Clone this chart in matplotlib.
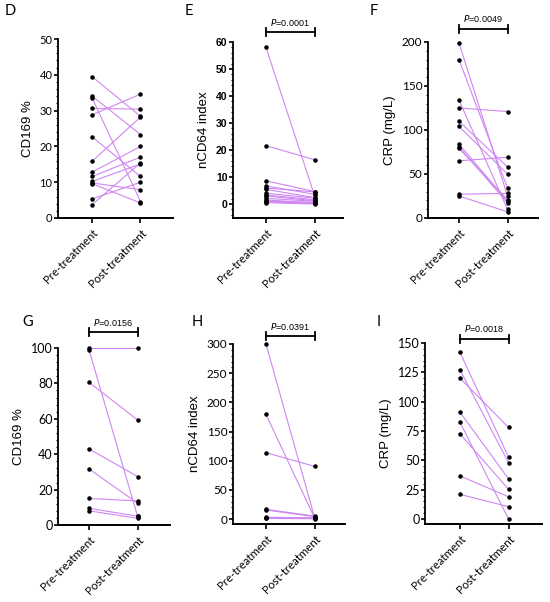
import matplotlib
matplotlib.use('Agg')
import matplotlib.pyplot as plt
from matplotlib.ticker import AutoMinorLocator, FixedLocator
from matplotlib.transforms import blended_transform_factory

plt.rcParams['font.family'] = ['Lato', 'DejaVu Sans']
LINE = '#cf86f2'
W, H = 550, 602

groups = ['Pre-treatment', 'Post-treatment']

# D: CD169 %
d_pre  = [39.5, 34.1, 33.6, 30.6, 28.8, 22.7, 15.8, 12.8, 11.6, 10.2, 9.8, 9.6, 5.3, 3.7]
d_post = [28.4, 23.3, 4.6, 30.4, 34.6, 11.6, 28.2, 20.0, 17.0, 15.1, 7.9, 4.2, 10.0, 15.4]
# E: nCD64 index
e_pre  = [58.0, 21.6, 8.6, 6.7, 5.9, 5.4, 4.0, 3.3, 3.0, 2.1, 1.5, 1.0, 0.8, 0.5]
e_post = [3.2, 16.4, 4.6, 3.6, 4.5, 2.4, 2.2, 1.6, 1.2, 1.0, 0.4, 0.6, 0.2, 0.0]
# F: CRP
f_pre  = [199, 180, 134, 125, 110, 104, 84, 81, 79, 65, 27, 25]
f_post = [25, 34, 10, 121, 58, 50, 19, 17, 21, 69, 28, 7]
# G: CD169 %
g_pre  = [100, 99, 80.6, 43, 31.7, 15, 9.4, 8]
g_post = [100, 5, 59.4, 27.4, 12.3, 13.6, 5, 3.8]
# H: nCD64 index
h_pre  = [300, 179.4, 113.7, 16.6, 15.4, 3, 2, 1]
h_post = [3, 2, 90.3, 5, 4, 2, 1, 0.5]
# I: CRP
i_pre  = [142, 127, 120, 91, 82.5, 72.6, 36.7, 21]
i_post = [52.7, 48.1, 78, 34.2, 0, 25.3, 19, 10.5]

fig = plt.figure(figsize=(W / 100, H / 100), dpi=100)


def panel(px, pre, post, yl, yticks, ylabel, letter, letter_xy, pre_x,
          pval=None, br_y=None, txt_y=None, bold=False, tick_fs=8):
    left, right, top, bottom, y0px = px
    ax = fig.add_axes([left / W, 1 - bottom / H, (right - left) / W, (bottom - top) / H])
    # y limits: top at yl, value 0 at y0px
    ppu = (y0px - top) / yl
    ax.set_ylim(-(bottom - y0px) / ppu, yl)
    ppx = 48.5
    xmin = -(pre_x - left) / ppx
    ax.set_xlim(xmin, xmin + (right - left) / ppx)
    for a, b in zip(pre, post):
        ax.plot([0, 1], [a, b], color=LINE, lw=0.8, zorder=1)
    ax.scatter([0] * len(pre), pre, s=5, color='black', zorder=3, clip_on=False)
    ax.scatter([1] * len(post), post, s=5, color='black', zorder=3, clip_on=False)
    for s in ['top', 'right']:
        ax.spines[s].set_visible(False)
    ax.spines['left'].set_linewidth(1.3)
    ax.spines['bottom'].set_linewidth(1.4)
    ax.yaxis.set_major_locator(FixedLocator(yticks))
    ax.yaxis.set_minor_locator(AutoMinorLocator(5))
    ax.set_xticks([0, 1])
    ax.set_xticklabels(groups, rotation=45, ha='right', rotation_mode='anchor',
                       fontsize=8.3)
    ax.tick_params(axis='y', which='major', length=3, width=1.2, pad=1,
                   labelsize=tick_fs)
    ax.tick_params(axis='y', which='minor', length=1.5, width=0.8)
    ax.tick_params(axis='x', length=3.5, width=1.2, pad=3)
    if bold:
        for t in ax.get_yticklabels():
            t.set_fontweight('bold')
            t.set_family(['Liberation Sans', 'DejaVu Sans'])
    ax.set_ylabel(ylabel, fontsize=9.5, family=['Liberation Sans', 'DejaVu Sans'],
                  labelpad=4)
    fig.text(letter_xy[0] / W, 1 - letter_xy[1] / H, letter, fontsize=10.5,
             ha='left', va='center')
    if pval is not None:
        tr = blended_transform_factory(ax.transData, ax.transAxes)
        yb = (bottom - br_y) / (bottom - top)
        yt = (bottom - txt_y) / (bottom - top)
        dh = 4 / (bottom - top)
        ax.plot([0, 1], [yb, yb], color='black', lw=1.3, transform=tr, clip_on=False)
        for xx in (0, 1):
            ax.plot([xx, xx], [yb - dh, yb + dh], color='black', lw=1.3,
                    transform=tr, clip_on=False)
        ax.text(0.5, yt, r'$\it{P}$=' + pval, transform=tr, ha='center',
                va='center', fontsize=6.5, family=['Liberation Sans', 'DejaVu Sans'])
    return ax


panel((58, 173, 39, 218, 218), d_pre, d_post, 50, [0, 10, 20, 30, 40, 50],
      'CD169 %', 'D', (5, 11), 92, tick_fs=8)
panel((233, 343, 42, 218, 204), e_pre, e_post, 60, [0, 10, 20, 30, 40, 50, 60],
      'nCD64 index', 'E', (185, 11), 266, pval='0.0001', br_y=32, txt_y=23,
      bold=True, tick_fs=7.5)
panel((428, 538, 42, 218, 218), f_pre, f_post, 200, [0, 50, 100, 150, 200],
      'CRP (mg/L)', 'F', (370, 11), 459, pval='0.0049', br_y=29, txt_y=18,
      tick_fs=8.5)
panel((58, 170, 348, 525, 525), g_pre, g_post, 100, [0, 20, 40, 60, 80, 100],
      'CD169 %', 'G', (22, 322), 89, pval='0.0156', br_y=332, txt_y=323,
      tick_fs=9)
panel((233, 345, 344, 524, 519), h_pre, h_post, 300, [0, 50, 100, 150, 200, 250, 300],
      'nCD64 index', 'H', (192, 322), 266, pval='0.0391', br_y=336, txt_y=326,
      tick_fs=8.5)
panel((425, 542, 343, 524, 519), i_pre, i_post, 150, [0, 25, 50, 75, 100, 125, 150],
      'CRP (mg/L)', 'I', (377, 322), 460, pval='0.0018', br_y=339, txt_y=328,
      tick_fs=9)

fig.savefig('out.png', dpi=100, facecolor='white')
